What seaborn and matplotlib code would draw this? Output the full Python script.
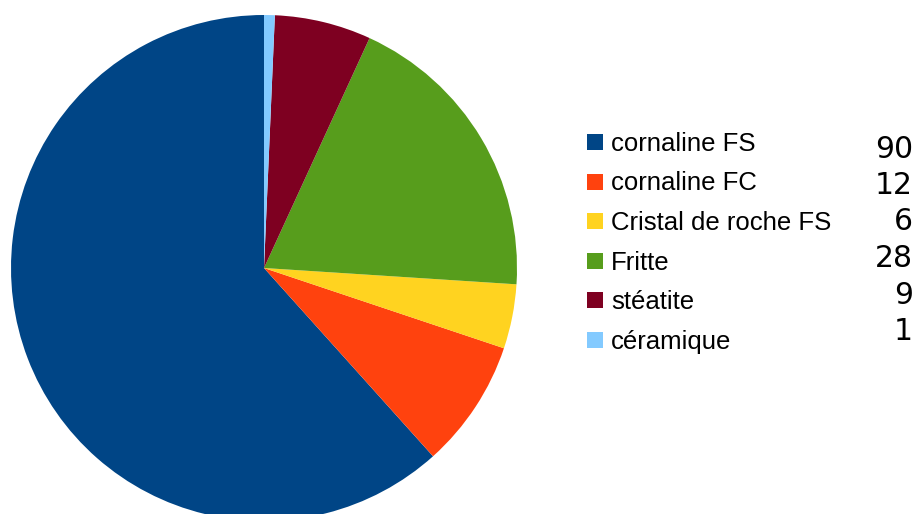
import matplotlib
matplotlib.use("Agg")
import matplotlib.pyplot as plt
import seaborn as sns
from matplotlib.patches import Rectangle

categories = ["cornaline FS", "cornaline FC", "Cristal de roche FS", "Fritte", "stéatite", "céramique"]
counts = [90, 12, 6, 28, 9, 1]
colors = ["#004586", "#ff420e", "#ffd320", "#579d1c", "#7e0021", "#83caff"]

sns.set_theme(style="white")
plt.rcParams["font.family"] = ["Liberation Sans", "DejaVu Sans"]

W, H = 917, 514
fig = plt.figure(figsize=(W / 100, H / 100), dpi=100)

# pie: center (264, 268) px, radius 253 px
cx, cy, r = 264, 268, 253
ax = fig.add_axes([(cx - r) / W, (H - cy - r) / H, 2 * r / W, 2 * r / H])
palette = sns.color_palette(colors)
wedges, _ = ax.pie(counts, colors=palette, startangle=90, counterclock=True,
                   radius=1, wedgeprops=dict(linewidth=0))
for w in wedges:
    w.set_clip_on(False)
ax.set_xlim(-1, 1)
ax.set_ylim(-1, 1)
ax.set_aspect("equal")
ax.axis("off")

# legend drawn by hand
for i, (lab, col, n) in enumerate(zip(categories, palette, counts)):
    ys = 142 + i * 39.5
    fig.add_artist(Rectangle((587 / W, (H - ys - 8) / H), 16 / W, 16 / H,
                             transform=fig.transFigure, color=col, lw=0))
    fig.text(611 / W, (H - ys - 2) / H, lab, fontsize=18.5, va="center", ha="left",
             color="black")
    yn = 149 + i * 36.5
    fig.text(913 / W, (H - yn) / H, str(n), fontsize=21.5, va="center", ha="right",
             color="black", family="DejaVu Sans")

fig.savefig("out.png", dpi=100)
